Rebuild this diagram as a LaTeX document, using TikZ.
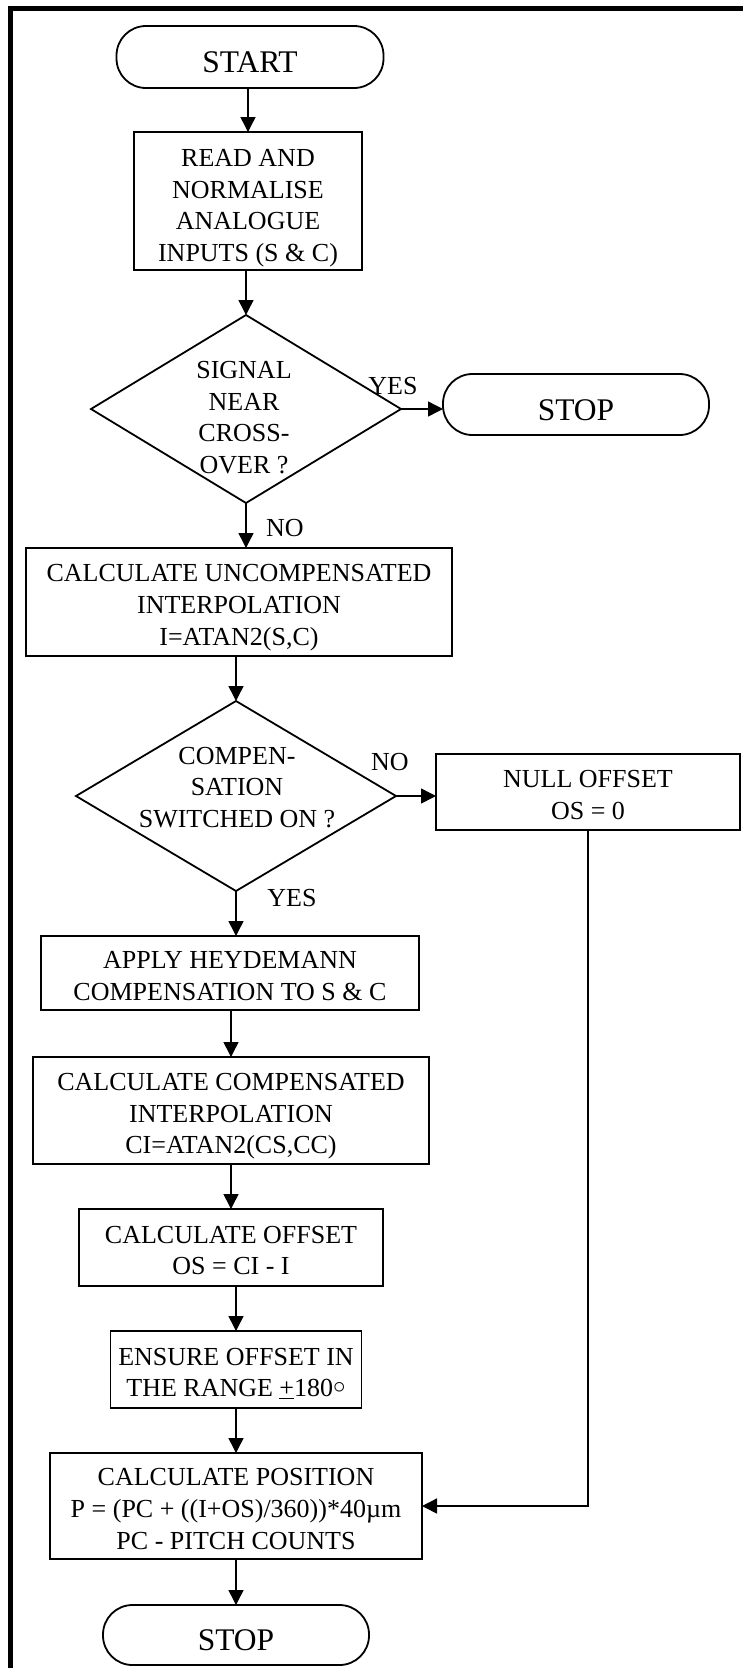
\documentclass[tikz,border=0pt]{standalone}
\usepackage{fontspec}
\setmainfont{Liberation Serif}
\usetikzlibrary{arrows.meta,shapes.geometric}
\newcommand\bxfont{\fontsize{26}{31.7}\selectfont}
\newcommand\tmfont{\fontsize{31.5}{36}\selectfont}
% struts that fix the height of a box's first line and the depth of its last line
\newcommand\toprule{\rule{0pt}{29pt}}
\newcommand\botrule{\rule[-6pt]{0pt}{6pt}}
\tikzset{
  box/.style={draw, line width=1.8pt, align=center, inner sep=0pt, outer sep=0pt, font=\bxfont},
  term/.style={box, rounded corners=29.5pt, font=\tmfont, text height=31pt, text depth=0pt},
  dec/.style={draw, diamond, line width=1.8pt, inner sep=0pt, outer sep=0pt},
  dectext/.style={align=center, inner sep=0pt, font=\bxfont},
  lbl/.style={inner sep=0pt, font=\bxfont},
  arr/.style={line width=1.5pt, -{Triangle[length=15pt,width=15pt]}}
}
\begin{document}
\begin{tikzpicture}[x=1pt,y=-1pt]
\useasboundingbox (0,0) rectangle (743,1668);
% outer frame (top and left edges)
\draw[line width=5pt, line join=miter] (10.5,1668) -- (10.5,8.5) -- (743,8.5);

% main column
\node[term, minimum width=267pt, minimum height=62pt] (start) at (250,57) {START};
\node[box, minimum width=228pt, minimum height=138pt] (read) at (248,201)
  {\rule{0pt}{32pt}READ AND\\NORMALISE\\ANALOGUE\\INPUTS (S \& C)\botrule};
\node[dec, minimum width=310pt, minimum height=188pt] (d1) at (246,409) {};
\node[dectext] (d1t) at (244,417.5) {SIGNAL\\NEAR\\CROSS-\\OVER ?};
\node[term, minimum width=266pt, minimum height=61pt] (stopa) at (576,404.5) {STOP};
\node[box, minimum width=426pt, minimum height=108pt] (uc) at (239,602)
  {\toprule CALCULATE UNCOMPENSATED\\INTERPOLATION\\I=ATAN2(S,C)\botrule};
\node[dec, minimum width=320pt, minimum height=190pt] (d2) at (236,796) {};
\node[dectext] (d2t) at (237,787.5) {COMPEN-\\SATION\\SWITCHED ON ?};
\node[box, minimum width=304pt, minimum height=76pt] (null) at (588,792)
  {\toprule NULL OFFSET\\OS = 0\botrule};
\node[box, minimum width=378pt, minimum height=74pt] (apply) at (230,973)
  {\toprule APPLY HEYDEMANN\\COMPENSATION TO S \& C\botrule};
\node[box, minimum width=396pt, minimum height=107pt] (cc) at (231,1110.5)
  {\toprule CALCULATE COMPENSATED\\INTERPOLATION\\CI=ATAN2(CS,CC)\botrule};
\node[box, minimum width=304pt, minimum height=77pt] (off) at (231,1247.5)
  {\toprule CALCULATE OFFSET\\OS = CI - I\botrule};
\node[box, minimum width=251pt, minimum height=77pt] (ens) at (236,1369.5)
  {\toprule ENSURE OFFSET IN\\THE RANGE \underline{+}180\raisebox{0.12em}{$\circ$}\botrule};
\node[box, minimum width=372pt, minimum height=106pt] (pos) at (236,1506)
  {\toprule CALCULATE POSITION\\P = (PC + ((I+OS)/360))*40µm\\PC - PITCH COUNTS\botrule};
\node[term, minimum width=266pt, minimum height=60pt] (stopb) at (236,1635) {STOP};

% branch labels
\node[lbl] (yes1) at (393,386) {YES};
\node[lbl] (no1) at (285,528.5) {NO};
\node[lbl] (no2) at (390,762) {NO};
\node[lbl] (yes2) at (292,898.5) {YES};

% connectors
\draw[arr] (read.north |- start.south) -- (read.north);
\draw[arr] (d1.north |- read.south) -- (d1.north);
\draw[arr] (d1.east) -- (d1.east -| stopa.west);
\draw[arr] (d1.south) -- (d1.south |- uc.north);
\draw[arr] (d2.north |- uc.south) -- (d2.north);
\draw[arr] (d2.east) -- (d2.east -| null.west);
\draw[arr] (d2.south) -- (d2.south |- apply.north);
\draw[arr] (cc.north |- apply.south) -- (cc.north);
\draw[arr] (cc.south) -- (off.north);
\draw[arr] (ens.north |- off.south) -- (ens.north);
\draw[arr] (ens.south) -- (pos.north);
\draw[arr] (null.south) |- (pos.east);
\draw[arr] (pos.south) -- (stopb.north);
\end{tikzpicture}
\end{document}
